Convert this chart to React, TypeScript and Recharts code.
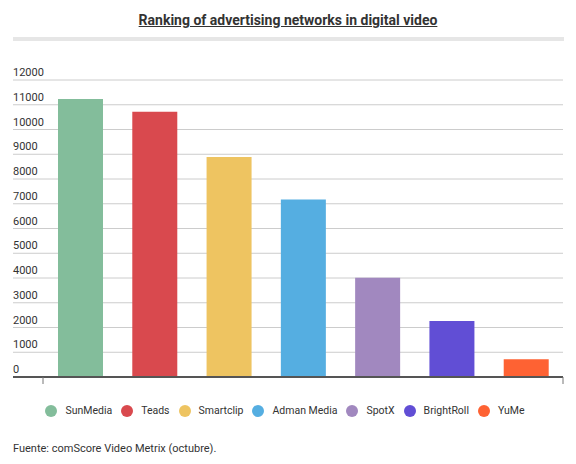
import React from 'react';
import { BarChart, Bar, Cell, XAxis, YAxis, CartesianGrid } from 'recharts';

// Datos del ranking (comScore Video Metrix, octubre)
const networks = ['SunMedia', 'Teads', 'Smartclip', 'Adman Media', 'SpotX', 'BrightRoll', 'YuMe'];
const audience = [11230, 10720, 8890, 7170, 4010, 2260, 720];
const colors = ['#83bd9b', '#d9494e', '#eec461', '#55aee1', '#a188bf', '#614ed5', '#fe6233'];
const yTicks = [0, 1000, 2000, 3000, 4000, 5000, 6000, 7000, 8000, 9000, 10000, 11000, 12000];

const W = 576;
const H = 464;
const FONT = 'Roboto, "Noto Sans", sans-serif';
const MARGIN = { top: 80, right: 13, bottom: 86, left: 12 };

const data = networks.map((name, i) => ({ name, value: audience[i] }));

// eslint-disable-next-line @typescript-eslint/no-explicit-any
const renderYTick = (props: any) => (
  <text x={13} y={props.y - 4} textAnchor="start" fontSize={11} fill="#333" fontFamily={FONT}>
    {props.payload.value}
  </text>
);

// solo marcas en los extremos de la banda, como el original
// eslint-disable-next-line @typescript-eslint/no-explicit-any
const renderXTick = (props: any) => {
  const { x, y, payload, index } = props;
  const half = payload.offset ?? 0;
  let px: number | null = null;
  if (index === 0) px = x - half;
  if (index === networks.length - 1) px = x + half;
  if (px === null) return <g />;
  return <line x1={px} x2={px} y1={y - 8} y2={y - 1} stroke="#777" strokeWidth={1} />;
};

export default function App() {
  return (
    <div style={{ position: 'relative', width: W, height: H, background: '#fff', fontFamily: FONT }}>
      <style>{'body{margin:0}'}</style>
      <div
        style={{
          position: 'absolute',
          top: 10,
          left: 0,
          width: W,
          textAlign: 'center',
          fontSize: 14,
          fontWeight: 700,
          color: '#333',
          textDecoration: 'underline',
          lineHeight: '20px',
        }}
      >
        Ranking of advertising networks in digital video
      </div>
      <div style={{ position: 'absolute', top: 37, left: 13, width: 551, height: 4, background: '#e6e6e6' }} />

      <div style={{ position: 'absolute', top: 0, left: 0 }}>
        <BarChart width={W} height={H} data={data} margin={MARGIN}>
          <CartesianGrid horizontal vertical={false} stroke="#cccccc" />
          <YAxis
            width={1}
            domain={[0, 12000]}
            ticks={yTicks}
            axisLine={false}
            tickLine={false}
            tick={renderYTick}
            interval={0}
          />
          <XAxis
            dataKey="name"
            height={1}
            padding={{ left: 30, right: 0 }}
            axisLine={{ stroke: '#555', strokeWidth: 2 }}
            tickLine={false}
            tick={renderXTick}
            interval={0}
          />
          <Bar dataKey="value" barSize={45} isAnimationActive={false}>
            {data.map((d, i) => (
              <Cell key={d.name} fill={colors[i]} />
            ))}
          </Bar>
        </BarChart>
      </div>

      <div
        style={{
          position: 'absolute',
          top: 403,
          left: 0,
          width: 570,
          display: 'flex',
          justifyContent: 'center',
          alignItems: 'center',
          fontSize: 10.5,
          color: '#333',
        }}
      >
        {networks.map((name, i) => (
          <div key={name} style={{ display: 'flex', alignItems: 'center', marginRight: i < networks.length - 1 ? 9 : 0 }}>
            <span
              style={{ width: 12, height: 12, borderRadius: 6, background: colors[i], display: 'inline-block', marginRight: 8 }}
            />
            <span style={{ lineHeight: '16px' }}>{name}</span>
          </div>
        ))}
      </div>

      <div style={{ position: 'absolute', top: 441, left: 13, fontSize: 11, color: '#333', lineHeight: '16px' }}>
        Fuente: comScore Video Metrix (octubre).
      </div>
    </div>
  );
}
